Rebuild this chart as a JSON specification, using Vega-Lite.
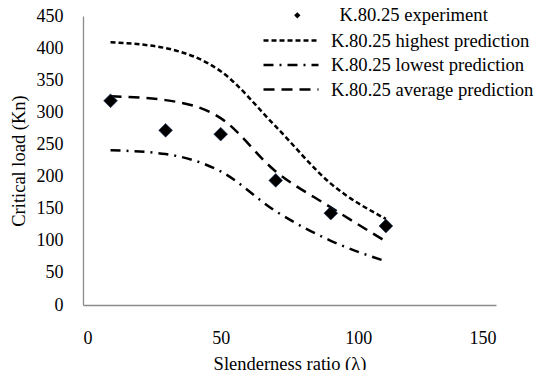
{
  "$schema": "https://vega.github.io/schema/vega-lite/v6.json",
  "width": 413,
  "height": 289,
  "autosize": "none",
  "padding": {"left": 83, "top": 16, "right": 40, "bottom": 65},
  "background": "white",
  "config": {
    "view": {"stroke": null},
    "font": "Liberation Serif",
    "axis": {
      "grid": false,
      "ticks": false,
      "domain": true,
      "domainColor": "#8c8c8c",
      "domainWidth": 1.3,
      "labelFont": "Liberation Serif",
      "labelFontSize": 18,
      "labelColor": "#000000",
      "titleFont": "Liberation Serif",
      "titleFontSize": 18.5,
      "titleFontWeight": "normal",
      "titleColor": "#000000"
    },
    "legend": {
      "labelFont": "Liberation Serif",
      "labelFontSize": 18.6,
      "labelColor": "#000000",
      "labelLimit": 0,
      "padding": 0,
      "title": null
    }
  },
  "data": {
    "values": [
      {"series": "K.80.25 experiment", "x": 10, "y": 318},
      {"series": "K.80.25 experiment", "x": 30, "y": 272},
      {"series": "K.80.25 experiment", "x": 50, "y": 266},
      {"series": "K.80.25 experiment", "x": 70, "y": 194},
      {"series": "K.80.25 experiment", "x": 90, "y": 143},
      {"series": "K.80.25 experiment", "x": 110, "y": 123},
      {"series": "K.80.25 highest prediction", "x": 10, "y": 409},
      {"series": "K.80.25 highest prediction", "x": 30, "y": 400},
      {"series": "K.80.25 highest prediction", "x": 50, "y": 364},
      {"series": "K.80.25 highest prediction", "x": 70, "y": 278},
      {"series": "K.80.25 highest prediction", "x": 90, "y": 189},
      {"series": "K.80.25 highest prediction", "x": 110, "y": 134},
      {"series": "K.80.25 lowest prediction", "x": 10, "y": 241},
      {"series": "K.80.25 lowest prediction", "x": 30, "y": 235},
      {"series": "K.80.25 lowest prediction", "x": 50, "y": 208},
      {"series": "K.80.25 lowest prediction", "x": 70, "y": 146},
      {"series": "K.80.25 lowest prediction", "x": 90, "y": 100},
      {"series": "K.80.25 lowest prediction", "x": 110, "y": 68},
      {"series": "K.80.25 average prediction", "x": 10, "y": 325},
      {"series": "K.80.25 average prediction", "x": 30, "y": 319},
      {"series": "K.80.25 average prediction", "x": 50, "y": 291},
      {"series": "K.80.25 average prediction", "x": 70, "y": 208},
      {"series": "K.80.25 average prediction", "x": 90, "y": 152},
      {"series": "K.80.25 average prediction", "x": 110, "y": 99}
    ]
  },
  "layer": [
    {
      "transform": [{"filter": "datum.series !== 'K.80.25 experiment'"}],
      "mark": {"type": "line", "interpolate": "monotone", "color": "#000000", "strokeWidth": 2.5},
      "encoding": {
        "x": {
          "field": "x", "type": "quantitative",
          "scale": {"domain": [0, 150], "nice": false},
          "axis": {"values": [0, 50, 100, 150], "domain": true, "title": "Slenderness ratio (λ)", "labelPadding": 24, "titlePadding": 7}
        },
        "y": {
          "field": "y", "type": "quantitative",
          "scale": {"domain": [0, 450], "nice": false},
          "axis": {"values": [0, 50, 100, 150, 200, 250, 300, 350, 400, 450], "domain": true, "tickCount": 10, "labelOverlap": false, "title": "Critical load (Kn)", "labelPadding": 20, "titlePadding": 8}
        },
        "strokeDash": {
          "field": "series", "type": "nominal",
          "scale": {
            "domain": ["K.80.25 highest prediction", "K.80.25 lowest prediction", "K.80.25 average prediction"],
            "range": [[5, 3], [10, 6, 2, 6], [11, 7]]
          },
          "legend": {
            "orient": "none", "legendX": 195.5, "legendY": 12,
            "symbolType": "M-2.5,0L2.5,0", "symbolSize": 484, "symbolStrokeWidth": 2.5,
            "symbolStrokeColor": "#000000", "labelOffset": 27.5, "rowPadding": 1.5
          }
        }
      }
    },
    {
      "transform": [{"filter": "datum.series === 'K.80.25 experiment'"}],
      "mark": {"type": "point", "shape": "diamond", "filled": true, "color": "#000000", "size": 190, "opacity": 1, "stroke": "#1f3864", "strokeWidth": 0.6},
      "encoding": {
        "x": {"field": "x", "type": "quantitative"},
        "y": {"field": "y", "type": "quantitative"},
        "shape": {
          "field": "series", "type": "nominal",
          "scale": {"domain": ["K.80.25 experiment"], "range": ["diamond"]},
          "legend": {
            "orient": "none", "legendX": 205, "legendY": -10,
            "symbolSize": 40, "symbolFillColor": "#000000", "symbolStrokeColor": "#000000",
            "labelOffset": 33
          }
        }
      }
    }
  ]
}
